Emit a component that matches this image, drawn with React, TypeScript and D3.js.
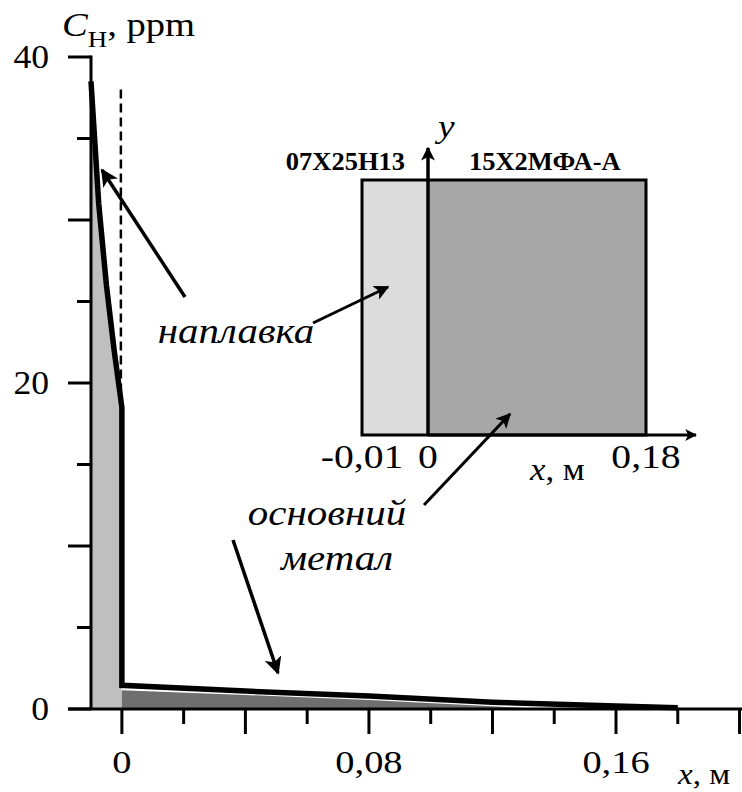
import React from "react";
import * as d3 from "d3";

// концентрація водню, ppm, вздовж x (м)
const curveX = [-0.01, -0.0075, -0.005, -0.0025, 0, 0, 0.04, 0.08, 0.12, 0.16, 0.18];
const curveY = [38.5, 31, 26, 22, 18.5, 1.45, 1.1, 0.8, 0.42, 0.18, 0.08];

// заливка наплавки
const cladX = [-0.01, -0.0088, -0.0075, -0.005, -0.0025, 0];
const cladY = [34.5, 34, 31, 26, 22, 18.5];

// заливка основного металу
const baseX = [0, 0.04, 0.08, 0.12, 0.137];
const baseY = [1.15, 0.86, 0.55, 0.17, 0];

const xTicks = [0, 0.02, 0.04, 0.06, 0.08, 0.1, 0.12, 0.14, 0.16, 0.18, 0.2];
const xLabels = [
  { v: 0, t: "0" },
  { v: 0.08, t: "0,08" },
  { v: 0.16, t: "0,16" },
];
const yTicks = [0, 5, 10, 15, 20, 25, 30, 35, 40];
const yLabels = [0, 20, 40];

const insetTicks = [
  { v: -0.01, t: "-0,01" },
  { v: 0, t: "0" },
  { v: 0.18, t: "0,18" },
];

const W = 742;
const H = 792;
const serif = { fontFamily: "Liberation Serif" };

// text, slightly stretched horizontally like the scanned figure
function T({ x, y, sx = 1.17, children, ...rest }: any) {
  return (
    <text transform={`translate(${x},${y}) scale(${sx},1)`} style={serif} {...rest}>
      {children}
    </text>
  );
}

export default function App() {
  const x = d3.scaleLinear().domain([-0.01, 0.16]).range([91, 616]);
  const y = d3.scaleLinear().domain([0, 40]).range([709, 57]);

  const line = d3
    .line<number>()
    .x((_, i) => x(curveX[i]))
    .y((d) => y(d));

  const cladArea = d3
    .area<number>()
    .x((_, i) => x(cladX[i]))
    .y0(y(0))
    .y1((d) => y(d));
  const baseArea = d3
    .area<number>()
    .x((_, i) => x(baseX[i]))
    .y0(y(0))
    .y1((d) => y(d));

  // inset, not to scale
  const ix = d3.scaleLinear().domain([-0.01, 0, 0.18]).range([362, 428, 646]);
  const iy = d3.scaleLinear().domain([0, 1]).range([435, 180]);

  return (
    <svg
      width={W}
      height={H}
      style={{ position: "absolute", left: 0, top: 0, background: "#fff", ...serif }}
    >
      <defs>
        <marker
          id="ah"
          viewBox="0 0 10 10"
          refX="9"
          refY="5"
          markerWidth="5"
          markerHeight="5"
          markerUnits="strokeWidth"
          orient="auto"
        >
          <path d="M0,0 L10,5 L0,10 L2.5,5 Z" fill="#000" />
        </marker>
        <marker
          id="ah2"
          viewBox="0 0 10 10"
          refX="9"
          refY="5"
          markerWidth="4"
          markerHeight="4"
          markerUnits="strokeWidth"
          orient="auto"
        >
          <path d="M0,0 L10,5 L0,10 L2.5,5 Z" fill="#000" />
        </marker>
      </defs>

      {/* fills */}
      <path d={cladArea(cladY) || ""} fill="#bfbfbf" />
      <path d={baseArea(baseY) || ""} fill="#6f6f6f" />

      {/* dashed interface line */}
      <line
        x1={x(0) - 1}
        x2={x(0) - 1}
        y1={y(38)}
        y2={y(19)}
        stroke="#000"
        strokeWidth={2.5}
        strokeDasharray="9,5"
      />

      {/* curve */}
      <path d={line(curveY) || ""} fill="none" stroke="#000" strokeWidth={5.5} strokeLinejoin="miter" />

      {/* y axis */}
      <line x1={x(-0.01)} x2={x(-0.01)} y1={y(40) - 1.5} y2={y(0)} stroke="#000" strokeWidth={3} />
      {yTicks.map((t) => (
        <line
          key={t}
          x1={t % 10 === 0 ? 68 : 77}
          x2={x(-0.01)}
          y1={y(t)}
          y2={y(t)}
          stroke="#000"
          strokeWidth={3}
        />
      ))}
      {yLabels.map((t) => (
        <T key={t} x={49} y={y(t) + 11} sx={1.08} textAnchor="end" fontSize={33}>
          {t}
        </T>
      ))}
      <T x={62} y={36} fontSize={33}>
        <tspan fontStyle="italic">C</tspan>
        <tspan fontSize={23} dy={11}>
          H
        </tspan>
        <tspan dy={-11}>, ppm</tspan>
      </T>

      {/* x axis */}
      <line x1={68} x2={W} y1={y(0)} y2={y(0)} stroke="#000" strokeWidth={3} />
      {xTicks.map((t, i) => (
        <line
          key={t}
          x1={x(t)}
          x2={x(t)}
          y1={y(0)}
          y2={y(0) + (i % 2 === 0 ? 25 : 15)}
          stroke="#000"
          strokeWidth={3}
        />
      ))}
      {xLabels.map((d) => (
        <T key={d.t} x={x(d.v)} y={773} sx={1.2} textAnchor="middle" fontSize={32}>
          {d.t}
        </T>
      ))}
      <T x={678} y={784} sx={1.1} fontSize={30}>
        <tspan fontStyle="italic">x</tspan>, м
      </T>

      {/* inset */}
      <rect x={ix(-0.01)} y={iy(1)} width={ix(0) - ix(-0.01)} height={iy(0) - iy(1)} fill="#dcdcdc" />
      <rect x={ix(0)} y={iy(1)} width={ix(0.18) - ix(0)} height={iy(0) - iy(1)} fill="#a7a7a7" />
      <rect
        x={ix(-0.01)}
        y={iy(1)}
        width={ix(0.18) - ix(-0.01)}
        height={iy(0) - iy(1)}
        fill="none"
        stroke="#000"
        strokeWidth={3}
      />
      <line x1={ix(0)} x2={ix(0)} y1={iy(0)} y2={148} stroke="#000" strokeWidth={3.5} markerEnd="url(#ah2)" />
      <line x1={ix(0)} x2={696} y1={iy(0)} y2={iy(0)} stroke="#000" strokeWidth={3} markerEnd="url(#ah2)" />
      <T x={438} y={137} fontSize={32} fontStyle="italic">
        y
      </T>
      <T x={405} y={170} sx={1.06} textAnchor="end" fontSize={25} fontWeight="bold">
        07Х25Н13
      </T>
      <T x={469} y={170} sx={1.06} fontSize={25} fontWeight="bold">
        15Х2МФА-А
      </T>
      {insetTicks.map((d) => (
        <T key={d.t} x={ix(d.v)} y={468} sx={1.2} textAnchor="middle" fontSize={33}>
          {d.t}
        </T>
      ))}
      <T x={530} y={480} sx={1.12} fontSize={31}>
        <tspan fontStyle="italic">x</tspan>, м
      </T>

      {/* labels and arrows */}
      <T x={236} y={343} textAnchor="middle" fontSize={35} fontStyle="italic">
        наплавка
      </T>
      <T x={327} y={525} textAnchor="middle" fontSize={35} fontStyle="italic">
        основний
      </T>
      <T x={337} y={570} textAnchor="middle" fontSize={35} fontStyle="italic">
        метал
      </T>
      <line x1={185} y1={297} x2={102} y2={170} stroke="#000" strokeWidth={3.5} markerEnd="url(#ah)" />
      <line x1={313} y1={323} x2={388} y2={287} stroke="#000" strokeWidth={3} markerEnd="url(#ah)" />
      <line x1={424} y1={505} x2={510} y2={414} stroke="#000" strokeWidth={3} markerEnd="url(#ah)" />
      <line x1={233} y1={540} x2={278} y2={673} stroke="#000" strokeWidth={3.5} markerEnd="url(#ah)" />
    </svg>
  );
}
